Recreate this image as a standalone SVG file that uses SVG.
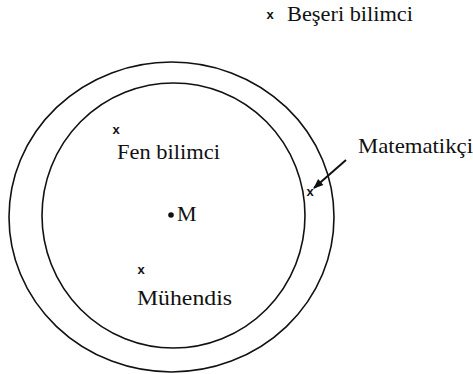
<svg xmlns="http://www.w3.org/2000/svg" width="473" height="374" viewBox="0 0 473 374">
<style>
.t{font-family:"Liberation Serif","DejaVu Serif",serif;font-size:22px;fill:#111}
.x{font-family:"Liberation Sans","DejaVu Sans",sans-serif;font-size:13px;font-weight:bold;fill:#111;text-anchor:middle}
.c{fill:none;stroke:#111;stroke-width:1.6}
</style>
<defs>
<marker id="ah" viewBox="0 0 10 10" refX="9" refY="5" markerWidth="11" markerHeight="10" orient="auto" markerUnits="userSpaceOnUse">
<path d="M0,1 L10,5 L0,9 Z" fill="#111"/>
</marker>
</defs>
<g id="outer"><ellipse class="c" cx="171.5" cy="217" rx="162.5" ry="155"/></g>
<g id="inner"><ellipse class="c" cx="173.5" cy="215.5" rx="131.5" ry="132.5"/></g>
<g id="M"><circle cx="171" cy="215" r="2.8" fill="#111"/><text class="t" x="177" y="221" font-size="21">M</text></g>
<g id="fen"><text class="x" x="116" y="134">x</text><text class="t" x="117" y="159" textLength="103" lengthAdjust="spacingAndGlyphs">Fen bilimci</text></g>
<g id="muhendis"><text class="x" x="141" y="274">x</text><text class="t" x="137" y="305" textLength="95" lengthAdjust="spacingAndGlyphs">Mühendis</text></g>
<g id="matematikci"><text class="x" x="310" y="196">x</text><text class="t" x="358" y="153" textLength="115" lengthAdjust="spacingAndGlyphs">Matematikçi</text></g>
<g id="beseri"><text class="x" x="270" y="19">x</text><text class="t" x="287" y="21" textLength="126" lengthAdjust="spacingAndGlyphs">Beşeri bilimci</text></g>
<g id="connectors"><line x1="346" y1="160" x2="314" y2="188" stroke="#111" stroke-width="2" marker-end="url(#ah)"/></g>
</svg>
